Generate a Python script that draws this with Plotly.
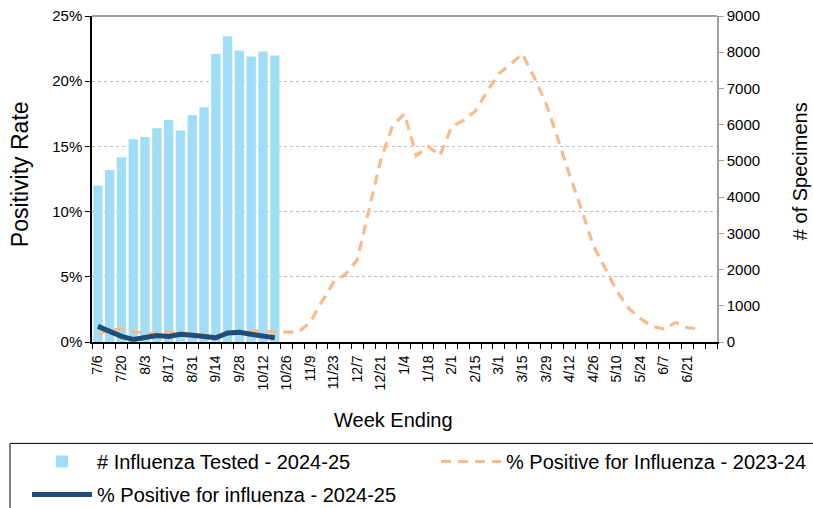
"""Influenza positivity vs. specimens tested, weekly, 2024-25 season."""
import plotly.graph_objects as go

# --- data -------------------------------------------------------------------
WEEKS = [
    "7/6", "7/13", "7/20", "7/27", "8/3", "8/10", "8/17", "8/24", "8/31",
    "9/7", "9/14", "9/21", "9/28", "10/5", "10/12", "10/19", "10/26", "11/2",
    "11/9", "11/16", "11/23", "11/30", "12/7", "12/14", "12/21", "12/28",
    "1/4", "1/11", "1/18", "1/25", "2/1", "2/8", "2/15", "2/22", "3/1", "3/8",
    "3/15", "3/22", "3/29", "4/5", "4/12", "4/19", "4/26", "5/3", "5/10",
    "5/17", "5/24", "5/31", "6/7", "6/14", "6/21", "6/28", "7/5",
]
LABELED_WEEKS = WEEKS[:51:2]  # 7/6 ... 6/21, every other week

tested_2425 = [
    4320, 4750, 5100, 5600, 5660, 5900, 6130, 5840, 6270, 6480,
    7960, 8440, 8050, 7880, 8020, 7910,
]

pos_2425 = [
    1.2, 0.85, 0.43, 0.2, 0.38, 0.49, 0.43, 0.59, 0.51, 0.43,
    0.33, 0.69, 0.74, 0.59, 0.43, 0.33,
]

pos_2324 = [
    0.6, 0.9, 1.0, 0.8, 0.65, 0.7, 0.75, 0.7, 0.6, 0.55,
    0.5, 0.55, 0.7, 0.85, 0.8, 0.75, 0.75, 0.77, 1.5, 3.1,
    4.6, 5.2, 6.3, 10.2, 14.0, 16.6, 17.5, 14.3, 15.0, 14.3,
    16.5, 17.0, 17.7, 19.2, 20.6, 21.3, 22.1, 20.3, 18.3, 15.6,
    12.8, 10.2, 7.4, 5.7, 3.9, 2.6, 1.8, 1.2, 1.0, 1.5,
    1.1, 1.0,
]

PCT_TICKS = [0, 5, 10, 15, 20, 25]
COUNT_TICKS = list(range(0, 9001, 1000))

FONT = "Arial, 'Liberation Sans', sans-serif"
BAR_COLOR = "#A0DDF6"
NAVY = "#1F4E79"
PEACH = "#F9BA8A"
AXIS_GREY = "#A0A0A0"

PLOT_L, PLOT_T, PLOT_W, PLOT_H = 92, 16, 625, 325.7

idx = list(range(len(WEEKS)))

fig = go.Figure()

# bars live on the base axis (y, right side) so the % lines overlay them
fig.add_trace(
    go.Bar(
        x=idx[: len(tested_2425)],
        y=tested_2425,
        name="# Influenza Tested - 2024-25",
        marker={"color": BAR_COLOR, "line": {"width": 0}},
        yaxis="y",
        legend="legend",
        legendgroup="a",
    )
)
fig.add_trace(
    go.Scatter(
        x=idx[: len(pos_2324)],
        y=[v / 100 for v in pos_2324],
        name="% Positive for Influenza - 2023-24",
        mode="lines",
        line={"color": PEACH, "width": 3.2, "dash": "10px,7px"},
        yaxis="y2",
        legend="legend2",
    )
)
fig.add_trace(
    go.Scatter(
        x=idx[: len(pos_2425)],
        y=[v / 100 for v in pos_2425],
        name="% Positive for influenza - 2024-25",
        mode="lines",
        line={"color": NAVY, "width": 5},
        yaxis="y2",
        legend="legend",
        legendgroup="b",
    )
)

# legend frame (runs off the right/bottom edge like the source)
fig.add_shape(
    type="rect", xref="paper", yref="paper",
    x0=(10 - PLOT_L) / PLOT_W, x1=1.3,
    y0=(PLOT_T + PLOT_H - 443) / PLOT_H, y1=-0.7,
    line={"color": "#000000", "width": 1}, fillcolor="rgba(0,0,0,0)",
)
# grey top border of the plot area
fig.add_shape(
    type="line", xref="paper", yref="paper", x0=0, x1=1, y0=1, y1=1,
    line={"color": AXIS_GREY, "width": 2},
)


def add_title(text, x_px, y_px, size, angle=0):
    """Axis title placed by its centre, in figure pixels."""
    fig.add_annotation(
        text=text, xref="paper", yref="paper",
        x=(x_px - PLOT_L) / PLOT_W, y=(PLOT_T + PLOT_H - y_px) / PLOT_H,
        xanchor="center", yanchor="middle",
        textangle=angle, showarrow=False, font={"size": size},
    )


add_title("Positivity Rate", 20, 174, 23, -90)
add_title("# of Specimens", 800, 171, 20, -90)
add_title("Week Ending", 393, 420, 20)

legend_common = {
    "xref": "container", "yref": "container",
    "xanchor": "left", "yanchor": "top",
    "orientation": "v",
    "itemwidth": 60,
    "bgcolor": "rgba(0,0,0,0)",
    "font": {"size": 20, "family": FONT},
}

fig.update_layout(
    width=813,
    height=508,
    paper_bgcolor="white",
    plot_bgcolor="white",
    font={"family": FONT, "color": "#000000", "size": 15},
    margin={
        "l": PLOT_L, "t": PLOT_T,
        "r": 813 - PLOT_L - PLOT_W, "b": 508 - PLOT_T - PLOT_H,
        "autoexpand": False,
    },
    bargap=0.21,
    showlegend=True,
    legend={
        **legend_common,
        "x": 27 / 813, "y": 1 - 442 / 508,
        "traceorder": "grouped",
        "tracegroupgap": 4,
    },
    legend2={**legend_common, "x": 436 / 813, "y": 1 - 442 / 508},
    xaxis={
        "range": [-0.5, len(WEEKS) - 0.5],
        "tickmode": "array",
        "tickvals": idx[:51:2],
        "ticktext": LABELED_WEEKS,
        "tickangle": -90,
        "ticks": "",
        "ticklabelstandoff": 6,
        "tickfont": {"size": 14},
        "showgrid": False,
        "zeroline": False,
        "showline": True,
        "linecolor": "#000000",
        "linewidth": 1.5,
        "minor": {
            "tickmode": "linear", "tick0": -0.5, "dtick": 1,
            "ticks": "outside", "ticklen": 5, "tickcolor": "#000000",
            "showgrid": False,
        },
    },
    yaxis={
        "range": [0, 9000],
        "side": "right",
        "tickmode": "array",
        "tickvals": COUNT_TICKS,
        "ticks": "outside",
        "ticklen": 5,
        "tickcolor": AXIS_GREY,
        "tickfont": {"size": 15},
        "ticklabeloverflow": "allow",
        "showline": True,
        "linecolor": AXIS_GREY,
        "linewidth": 1.5,
        "showgrid": False,
        "zeroline": False,
    },
    yaxis2={
        "range": [0, 0.25],
        "overlaying": "y",
        "side": "left",
        "tickmode": "array",
        "tickvals": [t / 100 for t in PCT_TICKS],
        "ticktext": [f"{t}%" for t in PCT_TICKS],
        "ticks": "outside",
        "ticklen": 5,
        "tickcolor": "#000000",
        "tickfont": {"size": 15},
        "ticklabeloverflow": "allow",
        "showline": True,
        "linecolor": "#000000",
        "linewidth": 1.5,
        "showgrid": True,
        "gridcolor": "#BDBDBD",
        "griddash": "dot",
        "gridwidth": 1,
        "zeroline": False,
    },
)

# drop the default 8px page margin so the 813x508 figure fills the window
fig.write_html(
    "out.html",
    config={"displayModeBar": False},
    post_script="document.body.style.margin='0';document.body.style.overflow='hidden';",
)
